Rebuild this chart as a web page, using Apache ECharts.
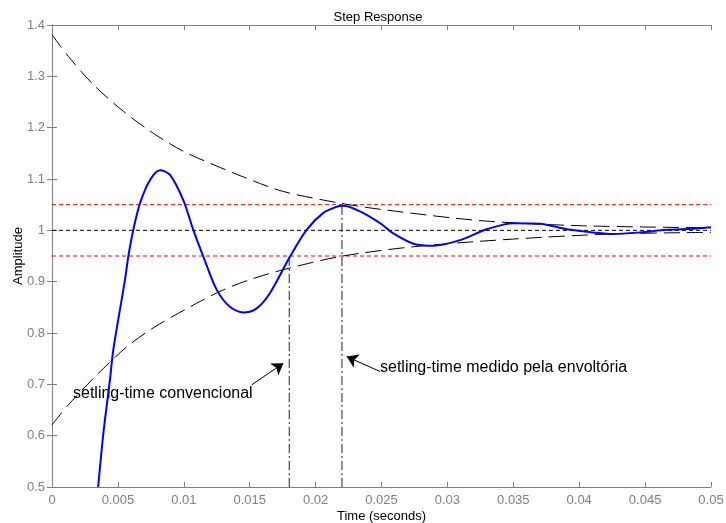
<!DOCTYPE html>
<html>
<head>
<meta charset="utf-8">
<script src="https://cdn.jsdelivr.net/npm/echarts@6/dist/echarts.min.js"></script>
<style>
  html, body { margin: 0; padding: 0; background: #fff; }
  #chart { width: 726px; height: 523px; }
</style>
</head>
<body>
<div id="chart"></div>
<script>
  // resposta ao degrau
  var respT = [0.0035, 0.0039, 0.0044, 0.00465, 0.00554, 0.00579, 0.00617, 0.00668, 0.00744, 0.0082, 0.00895,
    0.00996, 0.01072, 0.01148, 0.0125, 0.0135, 0.01452, 0.01553, 0.01654, 0.01806, 0.01932, 0.02059, 0.0216,
    0.0221, 0.02337, 0.02489, 0.0259, 0.02742, 0.02893, 0.03096, 0.03298, 0.035, 0.03703, 0.03905, 0.04107,
    0.04259, 0.04461, 0.04664, 0.04866, 0.05];
  var respY = [0.50, 0.605, 0.709, 0.767, 0.904, 0.949, 1.001, 1.053, 1.098, 1.117, 1.108,
    1.059, 1.001, 0.949, 0.884, 0.851, 0.840, 0.848, 0.878, 0.949, 1.001, 1.034, 1.046,
    1.048, 1.037, 1.014, 0.994, 0.974, 0.970, 0.981, 1.002, 1.014, 1.013, 1.002, 0.996,
    0.993, 0.996, 1.001, 1.003, 1.006];

  // envoltórias
  var upperT = [0, 0.00124, 0.00313, 0.00541, 0.00769, 0.00996, 0.01224, 0.01452, 0.0175, 0.02185, 0.02489, 0.03247, 0.04006, 0.05];
  var upperY = [1.381, 1.339, 1.284, 1.232, 1.189, 1.154, 1.128, 1.104, 1.076, 1.053, 1.041, 1.019, 1.009, 1.005];
  var lowerT = [0, 0.00124, 0.00339, 0.00567, 0.00781, 0.01098, 0.013, 0.01502, 0.0175, 0.02185, 0.02742, 0.035, 0.0426, 0.05];
  var lowerY = [0.621, 0.660, 0.718, 0.773, 0.812, 0.858, 0.884, 0.904, 0.923, 0.949, 0.968, 0.983, 0.993, 0.996];

  // faixa de 5% e valor final
  var bandHi = 1.05, finalVal = 1.0, bandLo = 0.95;
  // tempos de acomodação
  var tsConv = 0.018, tsEnv = 0.022;

  var xTicks = { min: 0, max: 0.05, interval: 0.005 };
  var yTicks = { min: 0.5, max: 1.4, interval: 0.1 };

  function zip(a, b) {
    return a.map(function (v, i) { return [v, b[i]]; });
  }

  var gray = '#808080';
  var fontFam = '"Liberation Sans", Arial, sans-serif';

  function hline(name, y, color) {
    return {
      name: name, type: 'line', symbol: 'none', silent: true,
      data: [[0, y], [0.05, y]],
      lineStyle: { color: color, width: 1, type: [4, 3] }
    };
  }

  function vline(name, x, yTop) {
    return {
      name: name, type: 'line', symbol: 'none', silent: true,
      data: [[x, 0.5], [x, yTop]],
      lineStyle: { color: '#222', width: 1, type: [9, 3, 2, 3] }
    };
  }

  var chart = echarts.init(document.getElementById('chart'));

  var option = {
    animation: false,
    backgroundColor: '#fff',
    title: {
      text: 'Step Response',
      left: 373, top: 6, textAlign: 'center',
      textStyle: { fontSize: 13, fontWeight: 'normal', color: '#000', fontFamily: fontFam }
    },
    grid: { left: 52, right: 15, top: 25, bottom: 36, containLabel: false, outerBoundsMode: 'none' },
    xAxis: [{
      type: 'value', min: xTicks.min, max: xTicks.max, interval: xTicks.interval,
      name: 'Time (seconds)', nameLocation: 'middle', nameGap: 23, nameMoveOverlap: false,
      nameTextStyle: { fontSize: 13, color: '#000', fontFamily: fontFam },
      axisLine: { lineStyle: { color: gray } },
      axisTick: { inside: true, length: 5, lineStyle: { color: gray } },
      axisLabel: { fontSize: 13, color: gray, margin: 7, fontFamily: fontFam },
      splitLine: { show: false }
    }, {
      type: 'value', position: 'top', min: xTicks.min, max: xTicks.max, interval: xTicks.interval,
      axisLine: { lineStyle: { color: gray } },
      axisTick: { inside: true, length: 5, lineStyle: { color: gray } },
      axisLabel: { show: false },
      splitLine: { show: false }
    }],
    yAxis: [{
      type: 'value', min: yTicks.min, max: yTicks.max, interval: yTicks.interval,
      name: 'Amplitude', nameLocation: 'middle', nameGap: 27, nameMoveOverlap: false,
      nameTextStyle: { fontSize: 13, color: '#000', fontFamily: fontFam },
      axisLine: { show: true, lineStyle: { color: gray } },
      axisTick: { show: true, inside: true, length: 5, lineStyle: { color: gray } },
      axisLabel: { fontSize: 13, color: gray, margin: 7, fontFamily: fontFam },
      splitLine: { show: false }
    }, {
      type: 'value', position: 'right', min: yTicks.min, max: yTicks.max, interval: yTicks.interval,
      axisLine: { show: true, lineStyle: { color: gray } },
      axisTick: { show: true, inside: true, length: 5, lineStyle: { color: gray } },
      axisLabel: { show: false },
      splitLine: { show: false }
    }],
    series: [
      hline('faixa sup', bandHi, '#ff0000'),
      hline('faixa inf', bandLo, '#ff0000'),
      hline('valor final', finalVal, '#000'),
      {
        name: 'env sup', type: 'line', symbol: 'none', smooth: 0.3, silent: true,
        data: zip(upperT, upperY),
        lineStyle: { color: '#000', width: 1, type: [16, 7] }
      },
      {
        name: 'env inf', type: 'line', symbol: 'none', smooth: 0.3, silent: true,
        data: zip(lowerT, lowerY),
        lineStyle: { color: '#000', width: 1, type: [16, 7] }
      },
      vline('ts conv', tsConv, bandLo),
      vline('ts env', tsEnv, bandHi),
      {
        name: 'resposta', type: 'line', symbol: 'none', smooth: 0.3,
        data: zip(respT, respY),
        lineStyle: { color: '#0000ff', width: 2 },
        z: 5,
        markLine: {
          silent: true, symbol: ['none', 'arrow'], symbolSize: 11,
          label: { show: false },
          lineStyle: { color: '#000', width: 1, type: 'solid' },
          data: [
            [{ coord: [0.01515, 0.699] }, { coord: [0.01755, 0.741] }],
            [{ coord: [0.02489, 0.725] }, { coord: [0.02236, 0.754] }]
          ]
        }
      }
    ],
    graphic: [
      {
        type: 'text', left: 73, top: 386,
        style: { text: 'setling-time convencional', fontSize: 16, fill: '#000', fontFamily: fontFam }
      },
      {
        type: 'text', left: 380, top: 360,
        style: { text: 'setling-time medido pela envoltória', fontSize: 16, fill: '#000', fontFamily: fontFam }
      }
    ]
  };

  chart.setOption(option);
</script>
</body>
</html>
